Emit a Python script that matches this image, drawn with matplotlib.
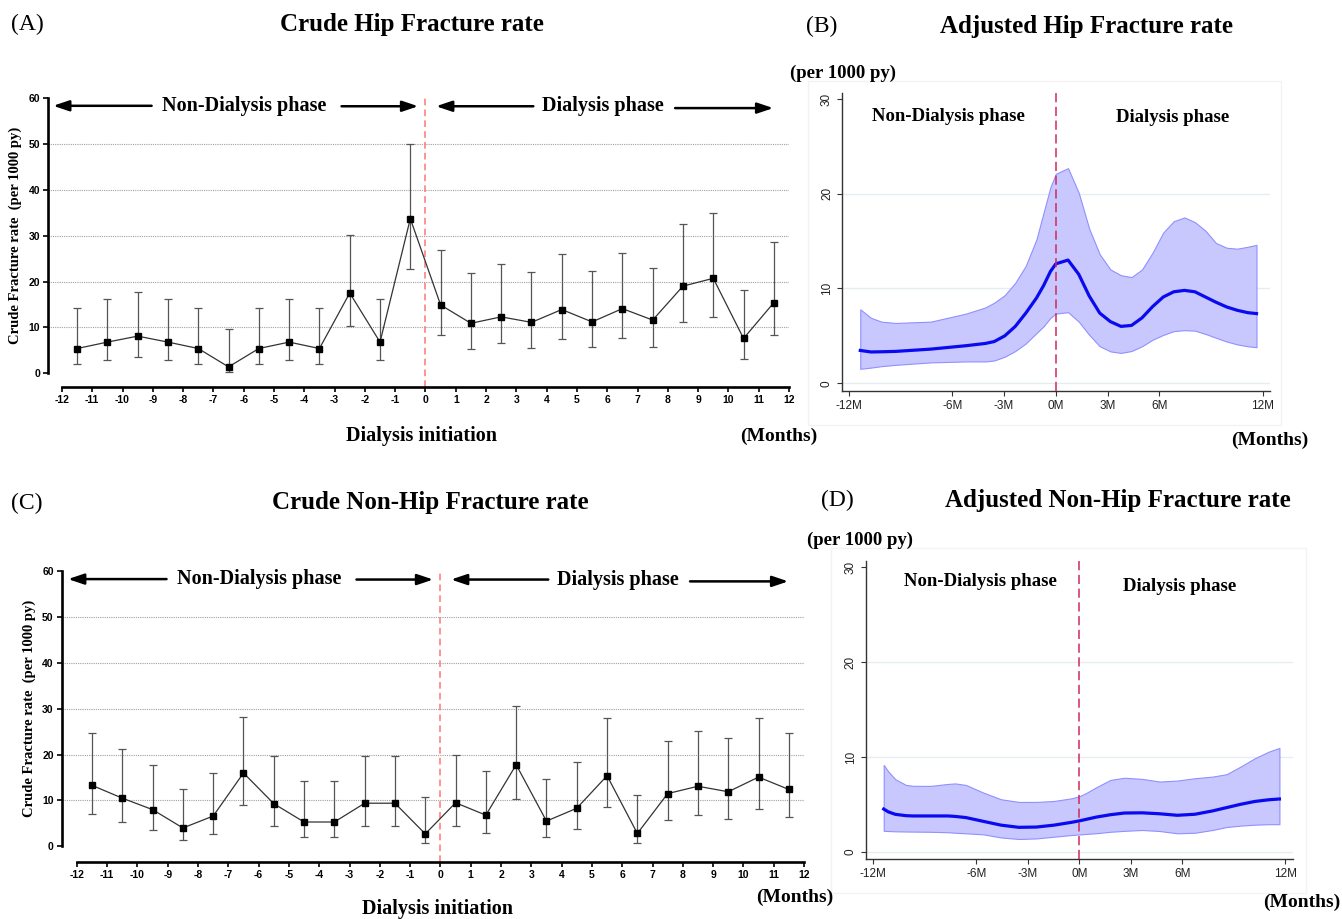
import matplotlib
matplotlib.use("Agg")
import matplotlib.pyplot as plt
import numpy as np
from matplotlib.patches import Rectangle

# ---- crude monthly rates (per 1000 py), midpoints of each month ----
crude_months = [-11.5, -10.5, -9.5, -8.5, -7.5, -6.5, -5.5, -4.5, -3.5, -2.5, -1.5, -0.5,
                0.5, 1.5, 2.5, 3.5, 4.5, 5.5, 6.5, 7.5, 8.5, 9.5, 10.5, 11.5]

hip_rate = [5.4, 6.8, 8.1, 6.8, 5.4, 1.4, 5.4, 6.8, 5.4, 17.5, 6.8, 33.7,
            14.9, 10.9, 12.3, 11.1, 13.9, 11.2, 14.1, 11.6, 19.0, 20.7, 7.6, 15.4]
hip_lo = [2.1, 2.9, 3.6, 2.9, 2.1, 0.3, 2.1, 2.9, 2.1, 10.2, 2.9, 22.8,
          8.3, 5.4, 6.5, 5.6, 7.5, 5.7, 7.7, 5.8, 11.1, 12.3, 3.2, 8.3]
hip_hi = [14.3, 16.1, 17.8, 16.1, 14.3, 9.6, 14.3, 16.1, 14.3, 30.2, 16.2, 49.9,
          26.9, 21.8, 23.8, 22.0, 25.9, 22.4, 26.2, 22.9, 32.5, 35.0, 18.2, 28.6]

nonhip_rate = [13.3, 10.5, 8.0, 4.0, 6.6, 16.0, 9.3, 5.3, 5.3, 9.4, 9.4, 2.7,
               9.5, 6.8, 17.8, 5.5, 8.3, 15.4, 2.8, 11.5, 13.1, 11.9, 15.1, 12.4]
nonhip_lo = [7.1, 5.2, 3.6, 1.3, 2.7, 9.0, 4.4, 2.0, 2.0, 4.4, 4.4, 0.65,
             4.5, 2.8, 10.3, 2.1, 3.8, 8.6, 0.65, 5.8, 6.8, 6.0, 8.2, 6.3]
nonhip_hi = [24.7, 21.3, 17.7, 12.4, 16.0, 28.2, 19.6, 14.3, 14.3, 19.6, 19.8, 10.8,
             19.9, 16.4, 30.6, 14.7, 18.5, 27.9, 11.2, 23.0, 25.2, 23.7, 28.1, 24.7]

crude_xticks = list(range(-12, 13))
crude_yticks = [0, 10, 20, 30, 40, 50, 60]
crude_grid = [10, 20, 30, 40, 50]

# ---- adjusted (smoothed) rates ----
adj_hip_months = [-11.34, -10.72, -10.11, -9.29, -7.25, -5.21, -4.08, -3.57, -2.96, -2.35,
                  -1.74, -1.12, -0.71, -0.31, 0.0, 0.71, 1.33, 1.94, 2.55, 3.17,
                  3.78, 4.39, 5.00, 5.62, 6.23, 6.84, 7.46, 8.07, 8.68, 9.29,
                  9.91, 10.52, 11.13, 11.64]
adj_hip = [3.46, 3.3, 3.32, 3.36, 3.6, 3.96, 4.2, 4.4, 5.0, 6.0,
           7.4, 9.0, 10.3, 11.8, 12.6, 13.0, 11.5, 9.2, 7.4, 6.5,
           6.0, 6.1, 6.9, 8.1, 9.1, 9.65, 9.8, 9.65, 9.1, 8.55,
           8.05, 7.7, 7.45, 7.35]
adj_hip_hi = [7.8, 6.9, 6.5, 6.36, 6.5, 7.35, 8.0, 8.5, 9.3, 10.6,
              12.4, 15.2, 18.0, 20.7, 22.1, 22.7, 20.1, 16.3, 13.6, 12.0,
              11.4, 11.2, 12.0, 13.8, 15.9, 17.1, 17.5, 17.0, 16.1, 14.8,
              14.3, 14.2, 14.4, 14.6]
adj_hip_lo = [1.52, 1.65, 1.8, 1.94, 2.2, 2.3, 2.3, 2.4, 2.8, 3.4,
              4.2, 5.3, 6.0, 6.9, 7.35, 7.5, 6.5, 5.1, 3.9, 3.36,
              3.2, 3.4, 3.9, 4.6, 5.1, 5.5, 5.6, 5.55, 5.2, 4.8,
              4.4, 4.1, 3.9, 3.8]

adj_nonhip_months = [-11.40, -11.13, -10.72, -10.10, -9.69, -8.67, -7.64, -7.23, -6.61, -5.59,
                     -4.56, -3.53, -2.50, -1.48, -0.45, 0.0, 0.37, 0.99, 1.81, 2.63,
                     3.66, 4.68, 5.71, 6.74, 7.76, 8.58, 9.40, 10.23, 11.05, 11.66]
adj_nonhip = [4.5, 4.2, 3.94, 3.8, 3.77, 3.77, 3.77, 3.72, 3.6, 3.2,
              2.8, 2.57, 2.6, 2.8, 3.1, 3.25, 3.4, 3.65, 3.9, 4.08,
              4.1, 4.0, 3.84, 3.95, 4.3, 4.65, 5.0, 5.3, 5.48, 5.56]
adj_nonhip_hi = [9.15, 8.45, 7.64, 7.04, 6.95, 6.94, 7.15, 7.2, 7.04, 6.23,
                 5.53, 5.25, 5.25, 5.35, 5.63, 5.85, 6.16, 6.8, 7.57, 7.8,
                 7.68, 7.4, 7.5, 7.75, 7.92, 8.17, 8.98, 9.86, 10.56, 10.95]
adj_nonhip_lo = [2.2, 2.18, 2.15, 2.13, 2.12, 2.1, 2.05, 2.0, 1.94, 1.83,
                 1.5, 1.34, 1.4, 1.58, 1.76, 1.82, 1.87, 1.95, 2.1, 2.2,
                 2.29, 2.18, 1.94, 2.0, 2.29, 2.6, 2.75, 2.85, 2.9, 2.9]

adj_xticks = [-12, -6, -3, 0, 3, 6, 12]
adj_xlabels = ["-12M", "-6M", "-3M", "0M", "3M", "6M", "12M"]
adj_yticks = [0, 10, 20, 30]
adj_grid = [0, 10, 20]

W, H = 1342, 919
SERIF = "Liberation Serif"
SANS = "Liberation Sans"
plt.rcParams["font.family"] = SERIF
plt.rcParams["axes.unicode_minus"] = False


def fig_box(x0, y0, x1, y1):
    """pixel box (top-left origin) -> figure fraction rect"""
    return [x0 / W, 1 - y1 / H, (x1 - x0) / W, (y1 - y0) / H]


def put_text(fig, x, y, s, size, weight="bold", ha="center"):
    fig.text(x / W, 1 - y / H, s, ha=ha, va="center", fontsize=size,
             fontweight=weight, family=SERIF)


def arrow(ax, x_from, x_to, y):
    ax.annotate("", xy=(x_to, y), xytext=(x_from, y),
                arrowprops=dict(arrowstyle="-|>,head_length=0.95,head_width=0.32",
                                lw=1.8, color="black", mutation_scale=10,
                                shrinkA=0, shrinkB=0),
                annotation_clip=False)


def draw_crude(fig, box, x_left, offset_px, rate, lo, hi):
    ax = fig.add_axes(fig_box(*box))
    rate, lo, hi = np.array(rate), np.array(lo), np.array(hi)
    ax.set_xlim(x_left, 12)
    ax.set_ylim(0, 60)
    for lvl in crude_grid:
        ax.axhline(lvl, color="#a0a0a0", lw=0.8, ls=(0, (1, 1)), zorder=0)
    height_px = box[3] - box[1]
    ax.axvline(0, ymin=-offset_px / height_px, ymax=1.0, color="#ff8080",
               lw=1.2, ls=(0, (4, 2.5)), clip_on=False, zorder=1)
    ax.errorbar(crude_months, rate, yerr=[rate - lo, hi - rate], fmt="none",
                ecolor="#555555", elinewidth=0.9, capsize=3.2, capthick=0.9, zorder=2)
    ax.plot(crude_months, rate, color="#333333", lw=0.9, marker="s", ms=4.6,
            mfc="black", mec="black", zorder=3)

    for side in ["top", "right"]:
        ax.spines[side].set_visible(False)
    ax.spines["left"].set_linewidth(1.9)
    ax.spines["bottom"].set_linewidth(1.9)
    ax.spines["left"].set_bounds(0, 60)
    ax.spines["bottom"].set_bounds(-12, 12)
    ax.spines["bottom"].set_position(("outward", offset_px * 0.72))
    ax.set_xticks(crude_xticks)
    ax.set_yticks(crude_yticks)
    ax.tick_params(length=3.8, width=1.2, pad=2)
    for lab in ax.get_xticklabels() + ax.get_yticklabels():
        lab.set_fontfamily(SANS)
        lab.set_fontweight("bold")
        lab.set_fontsize(7.5)

    # phase annotations
    ax.text(-5.99, 58.3, "Non-Dialysis phase", ha="center", va="center",
            fontsize=14.5, fontweight="bold")
    ax.text(5.86, 58.2, "Dialysis phase", ha="center", va="center",
            fontsize=14.5, fontweight="bold")
    arrow(ax, -9.04, -12.29, 58.3)
    arrow(ax, -2.77, -0.24, 58.2)
    arrow(ax, 3.56, 0.35, 58.2)
    arrow(ax, 8.24, 11.48, 57.8)
    return ax


def draw_adjusted(fig, box, xlim, ylim, months, fit, lo, hi, txt_pos, frame):
    fig.add_artist(Rectangle((frame[0] / W, 1 - frame[3] / H),
                             (frame[2] - frame[0]) / W, (frame[3] - frame[1]) / H,
                             transform=fig.transFigure, fill=False,
                             edgecolor="#f3f3f3", lw=1.0))
    ax = fig.add_axes(fig_box(*box))
    ax.set_xlim(*xlim)
    ax.set_ylim(*ylim)
    for lvl in adj_grid:
        ax.axhline(lvl, color="#e4eef0", lw=1.0, zorder=0)
    ax.fill_between(months, lo, hi, facecolor="#c8c8ff", edgecolor="#9090ff",
                    lw=0.8, zorder=1)
    ax.plot(months, fit, color="#0a0af0", lw=2.3, zorder=3)
    ax.axvline(0, color="#d0285a", lw=1.1, ls=(0, (6, 3)), zorder=4)

    for side in ["top", "right"]:
        ax.spines[side].set_visible(False)
    for side in ["left", "bottom"]:
        ax.spines[side].set_color("#333333")
        ax.spines[side].set_linewidth(1.0)
    ax.set_xticks(adj_xticks)
    ax.set_xticklabels(adj_xlabels)
    ax.set_yticks(adj_yticks)
    ax.tick_params(length=3.5, width=0.8, color="#333333", pad=3)
    for lab in ax.get_xticklabels():
        lab.set_fontfamily(SANS)
        lab.set_fontsize(8.5)
        lab.set_color("#222222")
    for lab in ax.get_yticklabels():
        lab.set_fontfamily(SANS)
        lab.set_fontsize(8.5)
        lab.set_color("#222222")
        lab.set_rotation(90)
        lab.set_va("center")

    ax.text(txt_pos[0][0], txt_pos[0][1], "Non-Dialysis phase", ha="center",
            va="center", fontsize=13.5, fontweight="bold")
    ax.text(txt_pos[1][0], txt_pos[1][1], "Dialysis phase", ha="center",
            va="center", fontsize=13.5, fontweight="bold")
    return ax


fig = plt.figure(figsize=(W / 100, H / 100), dpi=100)

# (A) crude hip
axA = draw_crude(fig, (48, 98, 789, 373.3), -12.46, 13.7, hip_rate, hip_lo, hip_hi)
put_text(fig, 27, 24, "(A)", 17, weight="normal")
put_text(fig, 412, 24, "Crude Hip Fracture rate", 18)
fig.text(15 / W, 1 - 235 / H, "Crude Fracture rate  (per 1000 py)", rotation=90,
         ha="center", va="center", fontsize=10.5, fontweight="bold")
put_text(fig, 422, 436, "Dialysis initiation", 14.5)
put_text(fig, 779, 436, "(Months)", 14)

# (C) crude non-hip
axC = draw_crude(fig, (61.7, 571.3, 804, 846.3), -12.5, 15.4,
                 nonhip_rate, nonhip_lo, nonhip_hi)
put_text(fig, 27, 503, "(C)", 17, weight="normal")
put_text(fig, 430, 503, "Crude Non-Hip Fracture rate", 18)
fig.text(29 / W, 1 - 708 / H, "Crude Fracture rate  (per 1000 py)", rotation=90,
         ha="center", va="center", fontsize=10.5, fontweight="bold")
put_text(fig, 437, 909, "Dialysis initiation", 14.5)
put_text(fig, 795, 897, "(Months)", 14)

# (B) adjusted hip
axB = draw_adjusted(fig, (842, 93.3, 1269.6, 391), (-12.4, 12.4), (-0.82, 30.6),
                    adj_hip_months, adj_hip, adj_hip_lo, adj_hip_hi,
                    [(-6.23, 28.1), (6.78, 28.0)], (807.6, 80.7, 1281, 425))
put_text(fig, 822, 26, "(B)", 17, weight="normal")
put_text(fig, 1086, 26, "Adjusted Hip Fracture rate", 18)
put_text(fig, 790, 73, "(per 1000 py)", 13.5, ha="left")
put_text(fig, 1270, 440, "(Months)", 14)

# (D) adjusted non-hip
axD = draw_adjusted(fig, (865.7, 561, 1292.8, 859), (-12.45, 12.44), (-0.77, 30.66),
                    adj_nonhip_months, adj_nonhip, adj_nonhip_lo, adj_nonhip_hi,
                    [(-5.79, 28.5), (5.87, 28.0)], (830.5, 548, 1305.8, 893))
put_text(fig, 837, 500, "(D)", 17, weight="normal")
put_text(fig, 1118, 500, "Adjusted Non-Hip Fracture rate", 18)
put_text(fig, 807, 540, "(per 1000 py)", 13.5, ha="left")
put_text(fig, 1302, 902, "(Months)", 14)

fig.savefig("out.png", dpi=100, facecolor="white")
